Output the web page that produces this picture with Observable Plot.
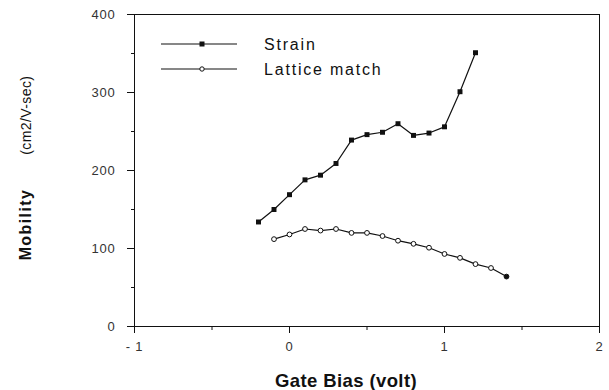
<!DOCTYPE html>
<html>
<head>
<meta charset="utf-8">
<script src="https://cdn.jsdelivr.net/npm/d3@7"></script>
<script src="https://cdn.jsdelivr.net/npm/@observablehq/plot@0.6"></script>
<style>
  body { margin: 0; background: #fff; }
  #chart { width: 609px; height: 390px; }
</style>
</head>
<body>
<div id="chart"></div>
<script>
// Gate bias (V) and mobility (cm2/V-sec) for the two channel structures
const biasStrain = [-0.2, -0.1, 0, 0.1, 0.2, 0.3, 0.4, 0.5, 0.6, 0.7, 0.8, 0.9, 1.0, 1.1, 1.2];
const mobilityStrain = [134, 150, 169, 188, 194, 209, 239, 246, 249, 260, 245, 248, 256, 301, 351];

const biasLattice = [-0.1, 0, 0.1, 0.2, 0.3, 0.4, 0.5, 0.6, 0.7, 0.8, 0.9, 1.0, 1.1, 1.2, 1.3, 1.4];
const mobilityLattice = [112, 118, 125, 123, 125, 120, 120, 116, 110, 106, 101, 93, 88, 80, 75, 64];

const seriesNames = ["Strain", "Lattice match"];

const xTicks = [-1, 0, 1, 2];
const xTickLabels = ["- 1", "0", "1", "2"];
const xMinorTicks = [-0.5, 0.5, 1.5];
const yTicks = [0, 100, 200, 300, 400];
const yMinorTicks = [50, 150, 250, 350];

const strain = biasStrain.map((x, i) => ({x, y: mobilityStrain[i]}));
const lattice = biasLattice.map((x, i) => ({x, y: mobilityLattice[i]}));

const font = "'Liberation Sans', Arial, Helvetica, sans-serif";

const chart = Plot.plot({
  width: 609,
  height: 390,
  marginLeft: 134,
  marginRight: 10,
  marginTop: 14,
  marginBottom: 64,
  style: {fontFamily: font, fontSize: "13px", color: "#333", background: "#fff", letterSpacing: "0.8px"},
  x: {domain: [-1, 2]},
  y: {domain: [0, 400]},
  marks: [
    Plot.frame({stroke: "#111", strokeWidth: 1}),
    Plot.axisX(xTicks, {tickSize: 7, tickPadding: 8, stroke: "#111",
      tickFormat: d => xTickLabels[xTicks.indexOf(d)], label: null}),
    Plot.axisX(xMinorTicks, {tickSize: 4, stroke: "#111", tickFormat: () => "", label: null}),
    Plot.axisY(yTicks, {tickSize: 7, tickPadding: 12, stroke: "#111", label: null}),
    Plot.axisY(yMinorTicks, {tickSize: 3, stroke: "#111", tickFormat: () => "", label: null}),
    Plot.line(strain, {x: "x", y: "y", stroke: "#111", strokeWidth: 1.2}),
    Plot.dot(strain, {x: "x", y: "y", symbol: "square", r: 2.8, fill: "#111", stroke: "none"}),
    Plot.line(lattice, {x: "x", y: "y", stroke: "#111", strokeWidth: 1.2}),
    Plot.dot(lattice, {x: "x", y: "y", r: 2.4, fill: (d, i) => i === lattice.length - 1 ? "#111" : "#fff",
      stroke: "#111", strokeWidth: 1})
  ]
});

document.getElementById("chart").appendChild(chart);

// Axis titles and the in-frame legend
const svg = d3.select(chart);

svg.append("text")
  .attr("x", 346).attr("y", 387)
  .attr("text-anchor", "middle")
  .attr("font-family", font).attr("font-size", 18.5).attr("font-weight", "bold")
  .attr("letter-spacing", 0.4)
  .attr("fill", "#111")
  .text("Gate Bias (volt)");

const yTitle = svg.append("text")
  .attr("transform", "translate(31,168) rotate(-90)")
  .attr("text-anchor", "middle")
  .attr("font-family", font)
  .attr("fill", "#111");
yTitle.append("tspan").attr("font-weight", "bold").attr("font-size", 16)
  .attr("letter-spacing", 1.4).text("Mobility");
yTitle.append("tspan").attr("dx", 34).attr("font-size", 14)
  .attr("letter-spacing", 0.4).text("(cm2/V-sec)");

const legendRows = [
  {name: seriesNames[0], y: 44, square: true},
  {name: seriesNames[1], y: 69, square: false}
];
const lg = svg.append("g");
legendRows.forEach(r => {
  lg.append("line").attr("x1", 161).attr("x2", 237).attr("y1", r.y).attr("y2", r.y)
    .attr("stroke", "#111").attr("stroke-width", 1.2);
  if (r.square) {
    lg.append("rect").attr("x", 199.5).attr("y", r.y - 2.5).attr("width", 5).attr("height", 5).attr("fill", "#111");
  } else {
    lg.append("circle").attr("cx", 202).attr("cy", r.y).attr("r", 2.2)
      .attr("fill", "#fff").attr("stroke", "#111");
  }
  lg.append("text").attr("x", 264).attr("y", r.y + 6)
    .attr("text-anchor", "start")
    .attr("font-family", font).attr("font-size", 16).attr("letter-spacing", 1.8)
    .attr("fill", "#111")
    .text(r.name);
});
</script>
</body>
</html>
